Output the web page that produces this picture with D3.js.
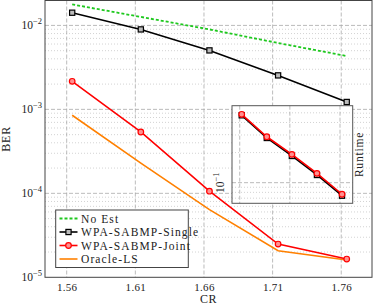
<!DOCTYPE html>
<html><head><meta charset="utf-8">
<script src="https://cdn.jsdelivr.net/npm/d3@7"></script>
<style>
body{margin:0;background:#fff}
text{font-family:"Liberation Serif","Times New Roman",serif;fill:#222}
</style></head><body>
<svg id="c" width="374" height="307"></svg>
<script>
// ---- data ----
const cr = [1.564, 1.614, 1.664, 1.714, 1.764];
const xTicks = [1.56, 1.61, 1.66, 1.71, 1.76];
const xTickLabels = ["1.56", "1.61", "1.66", "1.71", "1.76"];
const yTickExps = [-5, -4, -3, -2];
const noEst = [0.01778, 0.01262, 0.00896, 0.00617, 0.00432];
const single = [0.01416, 0.00896, 0.00504, 0.00254, 0.001225];
const joint = [0.00216, 0.000538, 0.000106, 0.0000249, 0.0000165];
const oracle = [0.000851, 0.000229, 0.000064, 0.0000207, 0.0000161];
const seriesNames = ["No Est", "WPA-SABMP-Single", "WPA-SABMP-Joint", "Oracle-LS"];
// inset (runtime)
const insetXTicks = [1.56, 1.66, 1.76];
const runtimeSingle = [0.472, 0.280, 0.185, 0.1194, 0.0741];
const runtimeJoint = [0.483, 0.288, 0.192, 0.124, 0.0766];

const svg = d3.select("#c");
const L = 45, R = 372, T = 0.5, B = 277.3;
const x = d3.scaleLinear().domain([1.5442, 1.7824]).range([L, R]);
const y = d3.scaleLog().domain([1e-5, 0.0198]).range([B, T]);

// grid
const g = svg.append("g");
const minor = [];
for (let e = -5; e <= -2; e++) for (let m = 2; m <= 9; m++) { const v = m * Math.pow(10, e); if (v < 0.0198) minor.push(v); }
g.selectAll(".mn").data(minor).join("line")
  .attr("x1", L).attr("x2", R).attr("y1", d => y(d)).attr("y2", d => y(d))
  .attr("stroke", "#c8c8c8").attr("stroke-width", 0.8).attr("stroke-dasharray", "1,2");
g.selectAll(".mj").data(yTickExps.slice(1)).join("line")
  .attr("x1", L).attr("x2", R).attr("y1", d => y(Math.pow(10, d))).attr("y2", d => y(Math.pow(10, d)))
  .attr("stroke", "#aaa").attr("stroke-width", 0.8).attr("stroke-dasharray", "4,2");
g.selectAll(".vx").data(xTicks).join("line")
  .attr("x1", d => x(d)).attr("x2", d => x(d)).attr("y1", T).attr("y2", B)
  .attr("stroke", "#aaa").attr("stroke-width", 0.8).attr("stroke-dasharray", "4,2");

// axes (labels only)
const xAxis = d3.axisBottom(x).tickValues(xTicks).tickFormat((d, i) => xTickLabels[i]).tickSize(0).tickPadding(6);
const xa = svg.append("g").attr("transform", `translate(0,${B})`).call(xAxis);
xa.select(".domain").remove();
xa.selectAll("text").attr("font-size", 11).attr("font-family", "Liberation Serif").attr("fill", "#222").attr("letter-spacing", 0.3);

const yl = svg.append("g");
yTickExps.forEach(e => {
  const t = yl.append("text").attr("x", 42).attr("y", y(Math.pow(10, e)) + 4)
    .attr("text-anchor", "end").attr("font-size", 11.5);
  t.append("tspan").text("10");
  t.append("tspan").attr("dy", -5).attr("font-size", 8.5).text("\u2212" + Math.abs(e));
});

// frame
svg.append("rect").attr("x", L).attr("y", T).attr("width", R - L).attr("height", B - T)
  .attr("fill", "none").attr("stroke", "#444").attr("stroke-width", 1);

// labels
svg.append("text").attr("x", (L + R) / 2).attr("y", 302.5).attr("text-anchor", "middle").attr("font-size", 12).attr("letter-spacing", 0.6).text("CR");
svg.append("text").attr("transform", `translate(10,${(T + B) / 2}) rotate(-90)`).attr("text-anchor", "middle").attr("font-size", 12).attr("letter-spacing", 0.8).text("BER");

// lines
const line = d3.line().x((d, i) => x(cr[i])).y(d => y(d));
const plot = svg.append("g");
plot.append("path").datum(noEst).attr("d", line).attr("fill", "none").attr("stroke", "#1ec81e").attr("stroke-width", 1.8).attr("stroke-dasharray", "3,2");
plot.append("path").datum(oracle).attr("d", line).attr("fill", "none").attr("stroke", "#ff8000").attr("stroke-width", 1.6);
plot.append("path").datum(joint).attr("d", line).attr("fill", "none").attr("stroke", "#ff0000").attr("stroke-width", 1.6);
plot.append("path").datum(single).attr("d", line).attr("fill", "none").attr("stroke", "#000").attr("stroke-width", 1.6);
plot.selectAll(".sq").data(single).join("rect")
  .attr("x", (d, i) => x(cr[i]) - 2.6).attr("y", d => y(d) - 2.6).attr("width", 5.2).attr("height", 5.2)
  .attr("fill", "#bbb").attr("stroke", "#000").attr("stroke-width", 1.2);
plot.selectAll(".ci").data(joint).join("circle")
  .attr("cx", (d, i) => x(cr[i])).attr("cy", d => y(d)).attr("r", 2.8)
  .attr("fill", "#ff9090").attr("stroke", "#ff0000").attr("stroke-width", 1.2);

// legend
const lg = svg.append("g");
lg.append("rect").attr("x", 55.7).attr("y", 210).attr("width", 132.6).attr("height", 57.5)
  .attr("fill", "#fff").attr("stroke", "#444").attr("stroke-width", 1);
const ly = [218.5, 232, 245.5, 259];
const colors = ["#1ec81e", "#000", "#ff0000", "#ff8000"];
seriesNames.forEach((n, i) => {
  const l = lg.append("line").attr("x1", 59.5).attr("x2", 77.5).attr("y1", ly[i]).attr("y2", ly[i])
    .attr("stroke", colors[i]).attr("stroke-width", i === 0 ? 1.8 : 1.6);
  if (i === 0) l.attr("stroke-dasharray", "3,2");
  if (i === 1) lg.append("rect").attr("x", 68.5 - 2.6).attr("y", ly[i] - 2.6).attr("width", 5.2).attr("height", 5.2)
    .attr("fill", "#bbb").attr("stroke", "#000").attr("stroke-width", 1.2);
  if (i === 2) lg.append("circle").attr("cx", 68.5).attr("cy", ly[i]).attr("r", 2.8)
    .attr("fill", "#ff9090").attr("stroke", "#ff0000").attr("stroke-width", 1.2);
  lg.append("text").attr("x", 81).attr("y", ly[i] + 4).attr("font-size", 11.5).attr("letter-spacing", 1.1).text(n);
});

// inset
const IL = 232, IR = 352.7, IT = 105.7, IB = 203.3;
const ix = d3.scaleLinear().domain([1.5446, 1.7853]).range([IL, IR]);
const iy = d3.scaleLog().domain([0.0622, 0.5888]).range([IB, IT]);
const ins = svg.append("g");
ins.append("rect").attr("x", IL).attr("y", IT).attr("width", IR - IL).attr("height", IB - IT).attr("fill", "#fff");
const iminor = [0.07, 0.08, 0.09, 0.2, 0.3, 0.4, 0.5];
ins.selectAll(".imn").data(iminor).join("line")
  .attr("x1", IL).attr("x2", IR).attr("y1", d => iy(d)).attr("y2", d => iy(d))
  .attr("stroke", "#c8c8c8").attr("stroke-width", 0.8).attr("stroke-dasharray", "1,2");
ins.append("line").attr("x1", IL).attr("x2", IR).attr("y1", iy(0.1)).attr("y2", iy(0.1))
  .attr("stroke", "#aaa").attr("stroke-width", 0.8).attr("stroke-dasharray", "4,2");
ins.selectAll(".ivx").data(insetXTicks).join("line")
  .attr("x1", d => ix(d)).attr("x2", d => ix(d)).attr("y1", IT).attr("y2", IB)
  .attr("stroke", "#aaa").attr("stroke-width", 0.8).attr("stroke-dasharray", "4,2");
const iline = d3.line().x((d, i) => ix(cr[i])).y(d => iy(d));
ins.append("path").datum(runtimeSingle).attr("d", iline).attr("fill", "none").attr("stroke", "#000").attr("stroke-width", 1.6);
ins.selectAll(".isq").data(runtimeSingle).join("rect")
  .attr("x", (d, i) => ix(cr[i]) - 2.6).attr("y", d => iy(d) - 2.6).attr("width", 5.2).attr("height", 5.2)
  .attr("fill", "#bbb").attr("stroke", "#000").attr("stroke-width", 1.2);
ins.append("path").datum(runtimeJoint).attr("d", iline).attr("fill", "none").attr("stroke", "#ff0000").attr("stroke-width", 1.6);
ins.selectAll(".ici").data(runtimeJoint).join("circle")
  .attr("cx", (d, i) => ix(cr[i])).attr("cy", d => iy(d)).attr("r", 2.8)
  .attr("fill", "#ff9090").attr("stroke", "#ff0000").attr("stroke-width", 1.2);
ins.append("rect").attr("x", IL).attr("y", IT).attr("width", IR - IL).attr("height", IB - IT)
  .attr("fill", "none").attr("stroke", "#555").attr("stroke-width", 1);
const it = ins.append("text").attr("transform", `translate(224,${iy(0.1)}) rotate(-90)`)
  .attr("text-anchor", "middle").attr("font-size", 11.5);
it.append("tspan").text("10");
it.append("tspan").attr("dy", -5).attr("font-size", 8.5).text("\u22121");
ins.append("text").attr("transform", `translate(363,${(IT + IB) / 2}) rotate(-90)`)
  .attr("text-anchor", "middle").attr("font-size", 11.5).attr("letter-spacing", 0.8).text("Runtime");
</script>
</body></html>
